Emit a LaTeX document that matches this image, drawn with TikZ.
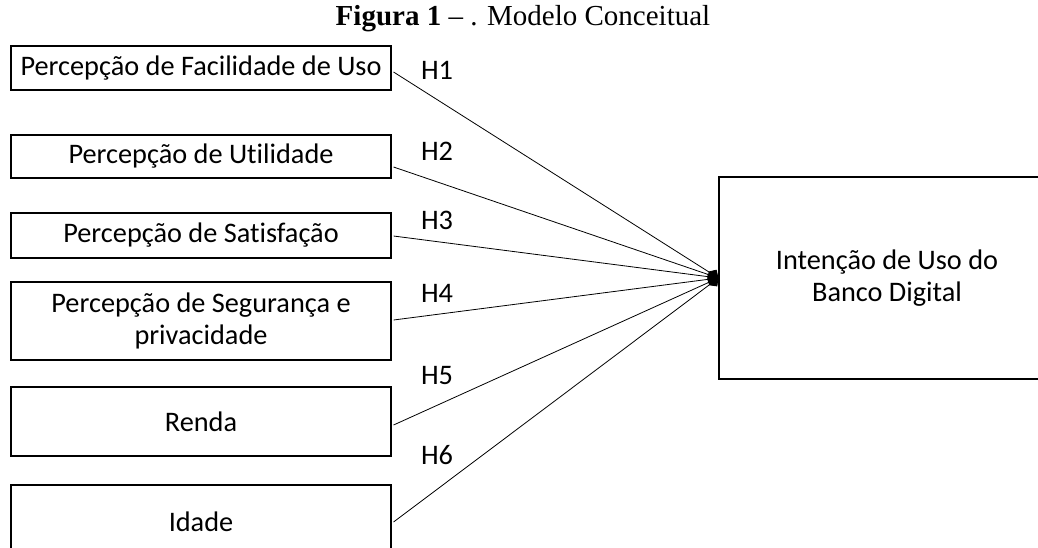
\documentclass[tikz,border=0pt]{standalone}
\usepackage{fontspec}
\setmainfont{Liberation Serif}
\newfontfamily\boxfont[Ligatures={NoCommon}]{Carlito}
\usetikzlibrary{arrows.meta,calc}
\begin{document}
\begin{tikzpicture}[x=1pt,y=-1pt,
  box/.style={draw, line width=1.1pt, inner sep=0pt, align=center,
    font=\boxfont\fontsize{28.3}{32}\selectfont},
  leftbox/.style={box, minimum width=380pt},
  conn/.style={line width=0.8pt, -{Diamond[length=12pt,width=12pt]}},
  hlabel/.style={font=\boxfont\fontsize{28.3}{32}\selectfont, inner sep=0pt}]
\useasboundingbox (0,0) rectangle (1038,547);
\node[font=\fontsize{29}{32}\selectfont, inner sep=0pt] (title) at (523,19) {\textbf{Figura 1} -- . Modelo Conceitual};
\node[leftbox, minimum height=44pt] (b1) at (201,68) {Percepção de Facilidade de Uso};
\node[leftbox, minimum height=43pt] (b2) at (201,156.5) {Percepção de Utilidade};
\node[leftbox, minimum height=45pt] (b3) at (201,235.5) {Percepção de Satisfação};
\node[leftbox, minimum height=78pt] (b4) at (201,321) {Percepção de Segurança e\\privacidade};
\node[leftbox, minimum height=69pt] (b5) at (201,421.5) {Renda};
\node[leftbox, minimum height=74pt] (b6) at (201,522) {Idade};
\node[box, minimum width=336pt, minimum height=202pt] (rb) at (887,278) {Intenção de Uso do\\Banco Digital};
\draw[conn] ($(b1.east)+(2,4)$) -- (rb.west);
\draw[conn] ($(b2.east)+(2,10.5)$) -- (rb.west);
\draw[conn] ($(b3.east)+(2,0.5)$) -- (rb.west);
\draw[conn] ($(b4.east)+(2,-1)$) -- (rb.west);
\draw[conn] ($(b5.east)+(2,3.5)$) -- (rb.west);
\draw[conn] ($(b6.east)+(2,0)$) -- (rb.west);
\node[hlabel] (h1) at (437,70) {H1};
\node[hlabel] (h2) at (437,151) {H2};
\node[hlabel] (h3) at (437,220) {H3};
\node[hlabel] (h4) at (437,293) {H4};
\node[hlabel] (h5) at (437,376) {H5};
\node[hlabel] (h6) at (437,455) {H6};
\end{tikzpicture}
\end{document}
